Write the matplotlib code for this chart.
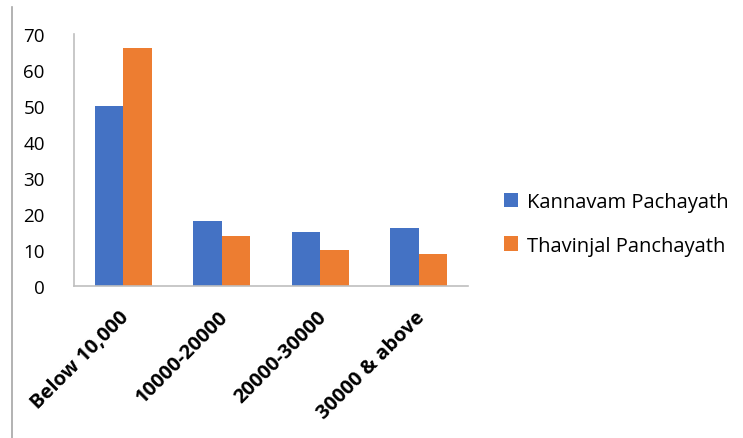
import matplotlib.pyplot as plt
import numpy as np
from matplotlib.lines import Line2D
from matplotlib.transforms import ScaledTranslation

plt.rcParams['font.family'] = ['Open Sans', 'DejaVu Sans']

categories = ['Below 10,000', '10000-20000', '20000-30000', '30000 & above']
kannavam = [50, 18, 15, 16]
thavinjal = [66, 14, 10, 9]
series_names = ['Kannavam Pachayath', 'Thavinjal Panchayath']

blue = '#4472C4'
orange = '#ED7D31'
axis_grey = '#BFBFBF'

fig = plt.figure(figsize=(7.43, 4.39), dpi=100)
ax = fig.add_axes([74 / 743, 1 - 287 / 439, 394 / 743, 252 / 439])

x = np.arange(len(categories))
w = 0.29
ax.bar(x - w / 2, kannavam, w, color=blue, label=series_names[0])
ax.bar(x + w / 2, thavinjal, w, color=orange, label=series_names[1])

ax.set_xlim(-0.5, len(categories) - 0.5)
ax.set_ylim(0, 70)
ax.set_yticks(range(0, 71, 10))
ax.tick_params(axis='y', length=0, pad=21, labelsize=13.5, colors='#000000')
ax.tick_params(axis='x', length=0, pad=20)
ax.set_xticks(x)
ax.set_xticklabels(categories, rotation=45, ha='right', va='center',
                   rotation_mode='anchor', fontsize=14.5, fontweight='bold')
# nudge the rotated labels a little to the right
for lbl in ax.get_xticklabels():
    lbl.set_transform(lbl.get_transform() + ScaledTranslation(0.03, 0, fig.dpi_scale_trans))

for side in ['top', 'right']:
    ax.spines[side].set_visible(False)
for side in ['left', 'bottom']:
    ax.spines[side].set_color(axis_grey)
    ax.spines[side].set_linewidth(1.2)

ax.legend(loc='center left', bbox_to_anchor=(504 / 743, 1 - 225 / 439),
          bbox_transform=fig.transFigure, frameon=False, fontsize=14.5,
          handlelength=0.7, handleheight=0.7, handletextpad=0.45,
          labelspacing=1.15, borderaxespad=0, borderpad=0)

# thin frame line on the left edge
fig.add_artist(Line2D([12 / 743, 12 / 743], [0, 1 - 8 / 439],
                      color='#A6A6A6', linewidth=1.2, transform=fig.transFigure))

fig.savefig('out.png', dpi=100)
